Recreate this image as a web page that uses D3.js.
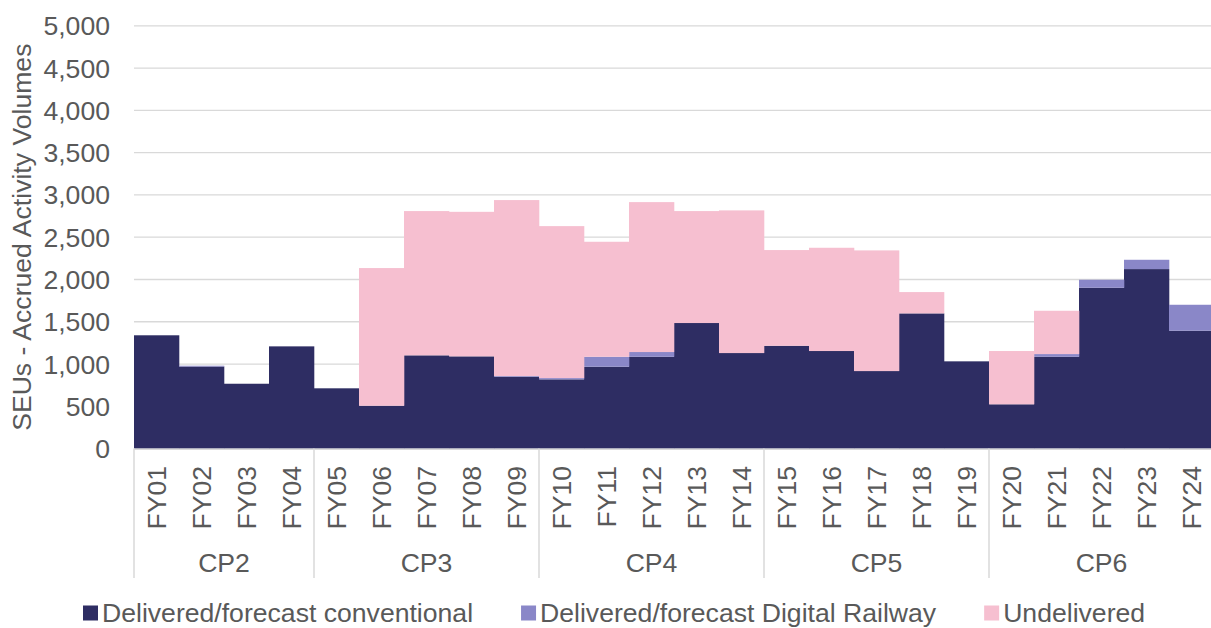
<!DOCTYPE html>
<html>
<head>
<meta charset="utf-8">
<script src="https://cdn.jsdelivr.net/npm/d3@7"></script>
<style>
  body { margin: 0; background: #fff; }
  svg text { font-family: "Liberation Sans", Arial, sans-serif; fill: #595959; }
</style>
</head>
<body>
<div id="chart"></div>
<script>
const years = ["FY01","FY02","FY03","FY04","FY05","FY06","FY07","FY08","FY09","FY10","FY11","FY12",
               "FY13","FY14","FY15","FY16","FY17","FY18","FY19","FY20","FY21","FY22","FY23","FY24"];
const periods = ["CP2", "CP3", "CP4", "CP5", "CP6"];
const periodSizes = [4, 5, 5, 5, 5];

const conventional = [1340, 970, 767, 1209, 713, 507, 1103, 1091, 850, 819, 968, 1086,
                      1485, 1130, 1216, 1154, 917, 1599, 1032, 524, 1086, 1902, 2123, 1394];
const digital = [0, 10, 0, 0, 0, 0, 0, 0, 8, 15, 118, 56,
                 0, 0, 0, 0, 0, 0, 0, 0, 32, 95, 110, 307];
const undelivered = [0, 0, 0, 0, 0, 1628, 1706, 1709, 2081, 1797, 1360, 1773,
                     1324, 1687, 1132, 1221, 1427, 252, 0, 630, 512, 0, 0, 0];

const yTicks = [0, 500, 1000, 1500, 2000, 2500, 3000, 3500, 4000, 4500, 5000];

const seriesNames = ["Delivered/forecast conventional", "Delivered/forecast Digital Railway", "Undelivered"];
const colors = ["#2e2d63", "#8a87c8", "#f6bfd0"];

const dims = { width: 1211, height: 628, left: 134, right: 1214, top: 25.8, bottom: 448.6 };
const fs = "26.6px";

const svg = d3.select("#chart")
    .append("svg")
    .attr("width", dims.width)
    .attr("height", dims.height);

const x = d3.scaleBand().domain(years).range([dims.left, dims.right]).padding(0);
const y = d3.scaleLinear().domain([0, 5000]).range([dims.bottom, dims.top]);

// gridlines
svg.append("g")
    .selectAll("line")
    .data(yTicks.filter(d => d > 0))
    .join("line")
    .attr("x1", dims.left).attr("x2", dims.width)
    .attr("y1", d => y(d)).attr("y2", d => y(d))
    .style("stroke", "#d9d9d9")
    .style("stroke-width", 1.3);

// y tick labels
svg.append("g")
    .selectAll("text")
    .data(yTicks)
    .join("text")
    .attr("x", 110)
    .attr("y", d => y(d))
    .attr("dy", "0.36em")
    .style("text-anchor", "end")
    .style("font-size", fs)
    .text(d3.format(","));

// y title
svg.append("text")
    .attr("transform", `translate(31,${(dims.top + dims.bottom) / 2}) rotate(-90)`)
    .style("text-anchor", "middle")
    .style("font-size", fs)
    .text("SEUs - Accrued Activity Volumes");

// stacked bars
const rows = years.map((yr, i) => ({ year: yr, a: conventional[i], b: digital[i], c: undelivered[i] }));
const stack = d3.stack().keys(["a", "b", "c"])(rows);

svg.append("g")
    .selectAll("g")
    .data(stack)
    .join("g")
    .style("fill", (d, i) => colors[i])
    .selectAll("rect")
    .data(d => d)
    .join("rect")
    .attr("x", d => x(d.data.year))
    .attr("width", x.bandwidth() + 0.3)
    .attr("y", d => y(d[1]))
    .attr("height", d => y(d[0]) - y(d[1]));

// x axis line
svg.append("line")
    .attr("x1", dims.left).attr("x2", dims.width)
    .attr("y1", dims.bottom + 0.6).attr("y2", dims.bottom + 0.6)
    .style("stroke", "#d9d9d9")
    .style("stroke-width", 1.5);

// FY labels
svg.append("g")
    .selectAll("text")
    .data(years)
    .join("text")
    .attr("transform", d => `translate(${x(d) + x.bandwidth() / 2},466) rotate(-90)`)
    .attr("dy", "0.36em")
    .style("text-anchor", "end")
    .style("font-size", fs)
    .text(d => d);

// period groups
let start = 0;
const groups = periods.map((p, i) => {
    const g = { name: p, first: years[start], last: years[start + periodSizes[i] - 1] };
    start += periodSizes[i];
    return g;
});

const bounds = groups.map(g => x(g.first)).concat([dims.right]);
svg.append("g")
    .selectAll("line")
    .data(bounds)
    .join("line")
    .attr("x1", d => d).attr("x2", d => d)
    .attr("y1", dims.bottom).attr("y2", 578)
    .style("stroke", "#d9d9d9")
    .style("stroke-width", 1.5);

svg.append("g")
    .selectAll("text")
    .data(groups)
    .join("text")
    .attr("x", d => (x(d.first) + x(d.last) + x.bandwidth()) / 2)
    .attr("y", 572)
    .style("text-anchor", "middle")
    .style("font-size", fs)
    .text(d => d.name);

// legend
const legend = svg.append("g").attr("transform", "translate(83,612)");
let lx = 0;
seriesNames.forEach((name, i) => {
    const item = legend.append("g").attr("transform", `translate(${lx},0)`);
    item.append("rect")
        .attr("x", 0).attr("y", -6.5)
        .attr("width", 15).attr("height", 15)
        .style("fill", colors[i]);
    const t = item.append("text")
        .attr("x", 19)
        .attr("dy", "0.36em")
        .style("font-size", fs)
        .text(name);
    lx += 19 + t.node().getComputedTextLength() + 48;
});
</script>
</body>
</html>
